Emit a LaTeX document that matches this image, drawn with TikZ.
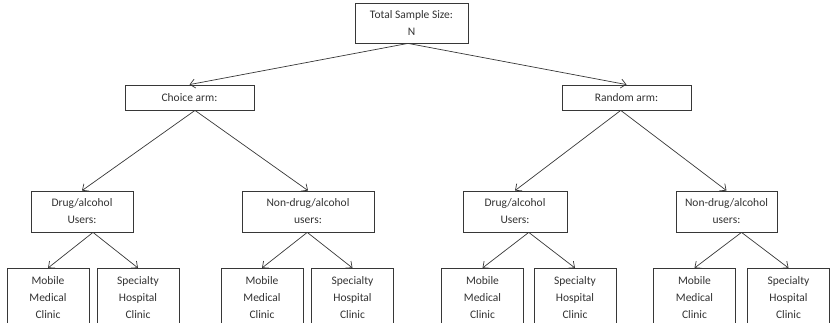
\documentclass[tikz,border=0pt]{standalone}
\usepackage{fontspec}
\setmainfont{Carlito}
\usetikzlibrary{calc}
\usetikzlibrary{arrows.meta}
\usetikzlibrary{positioning}
\definecolor{boxline}{RGB}{55, 55, 55}
\definecolor{boxtext}{RGB}{50, 50, 50}

\tikzset{
    box/.style={draw=boxline, line width=0.8pt, text=boxtext, align=center, inner sep=0pt,
                font=\fontsize{11.5}{17}\selectfont},
    leafbox/.style={box, anchor=north, minimum width=82pt, inner ysep=8pt},
    link/.style={-{Straight Barb[length=5pt, width=9pt]}, draw=boxline, line width=0.7pt}
}

\begin{document}
\begin{tikzpicture}
            \useasboundingbox (0pt, 0pt) rectangle (831pt, -323pt);
            \clip             (0pt, 0pt) rectangle (831pt, -323pt);
            % top and the two arms
            \node[box, minimum width=113pt, minimum height=40pt] (total)  at (411.5pt, -23.0pt) {Total Sample Size:\\N};
            \node[box, minimum width=129pt, minimum height=25pt] (choice) at (189.5pt, -97.5pt) {Choice arm:};
            \node[box, minimum width=129pt, minimum height=25pt] (random) at (626.5pt, -97.5pt) {Random arm:};
            % user groups
            \node[box, minimum width=102pt, minimum height=41pt] (du1) at ( 82.0pt, -211.5pt) {Drug/alcohol\\Users:};
            \node[box, minimum width=132pt, minimum height=41pt] (nu1) at (308.0pt, -211.5pt) {Non-drug/alcohol\\users:};
            \node[box, minimum width=104pt, minimum height=41pt] (du2) at (515.0pt, -211.5pt) {Drug/alcohol\\Users:};
            \node[box, minimum width=101pt, minimum height=41pt] (nu2) at (726.5pt, -211.5pt) {Non-drug/alcohol\\users:};
            % clinics, cut off at the bottom
            \node[leafbox] (m1) at ( 48.0pt, -268pt) {Mobile\\Medical\\Clinic};
            \node[leafbox] (s1) at (138.0pt, -268pt) {Specialty\\Hospital\\Clinic};
            \node[leafbox] (m2) at (262.0pt, -268pt) {Mobile\\Medical\\Clinic};
            \node[leafbox] (s2) at (352.5pt, -268pt) {Specialty\\Hospital\\Clinic};
            \node[leafbox] (m3) at (482.5pt, -268pt) {Mobile\\Medical\\Clinic};
            \node[leafbox] (s3) at (575.0pt, -268pt) {Specialty\\Hospital\\Clinic};
            \node[leafbox] (m4) at (694.5pt, -268pt) {Mobile\\Medical\\Clinic};
            \node[leafbox] (s4) at (788.5pt, -268pt) {Specialty\\Hospital\\Clinic};
            % split points above the middle of each pair of children
            \coordinate (mtop) at ($(choice.north)!0.5!(random.north)$);
            \coordinate (mch)  at ($(du1.north)!0.5!(nu1.north)$);
            \coordinate (mra)  at ($(du2.north)!0.5!(nu2.north)$);
            \coordinate (md1)  at ($(m1.north)!0.5!(s1.north)$);
            \coordinate (mn1)  at ($(m2.north)!0.5!(s2.north)$);
            \coordinate (md2)  at ($(m3.north)!0.5!(s3.north)$);
            \coordinate (mn2)  at ($(m4.north)!0.5!(s4.north)$);
            \draw[link] (total.south -| mtop) -- (choice.north);
            \draw[link] (total.south -| mtop) -- (random.north);
            \draw[link] (choice.south -| mch) -- (du1.north);
            \draw[link] (choice.south -| mch) -- (nu1.north);
            \draw[link] (random.south -| mra) -- (du2.north);
            \draw[link] (random.south -| mra) -- (nu2.north);
            \draw[link] (du1.south -| md1) -- (m1.north);
            \draw[link] (du1.south -| md1) -- (s1.north);
            \draw[link] (nu1.south -| mn1) -- (m2.north);
            \draw[link] (nu1.south -| mn1) -- (s2.north);
            \draw[link] (du2.south -| md2) -- (m3.north);
            \draw[link] (du2.south -| md2) -- (s3.north);
            \draw[link] (nu2.south -| mn2) -- (m4.north);
            \draw[link] (nu2.south -| mn2) -- (s4.north);
        \end{tikzpicture}
\end{document}
